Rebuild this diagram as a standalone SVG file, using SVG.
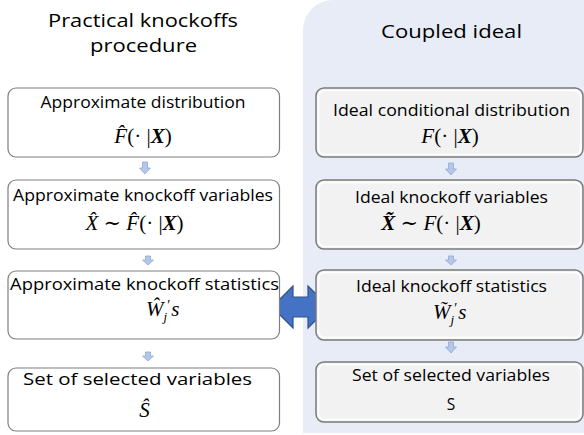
<svg xmlns="http://www.w3.org/2000/svg" width="584" height="435" viewBox="0 0 584 435">
<defs>
<style>
.lbl{font-family:"Open Sans","Liberation Sans",sans-serif;fill:#000;text-anchor:middle}
.t{font-size:18.5px}
.l{font-size:17px}
.r{font-size:15.5px}
.m{font-family:"Liberation Serif","DejaVu Serif",serif;font-size:21px;fill:#000}
.i{font-style:italic}
.bi{font-style:italic;font-weight:bold}
.lbox{fill:#fff;stroke:#7f7f7f;stroke-width:1.2}
.rbox{fill:#f2f2f2;stroke:#7a7a7a;stroke-width:1.5}
.rin{fill:none;stroke:#fff;stroke-width:1.5}
.down{fill:#b4c7e7;stroke:#8faadc;stroke-width:0.8}
.dbl{fill:#4472c4;stroke:#2f528f;stroke-width:1.2}
</style>
</defs>
<path d="M303,30 A30,30 0 0 1 333,0 L584,0 L584,433 L303,433 Z" fill="#e7ecf6"/>
<g id="titles">
<text class="lbl t" x="143" y="27" textLength="190" lengthAdjust="spacingAndGlyphs">Practical knockoffs</text>
<text class="lbl t" x="143.5" y="52" textLength="107" lengthAdjust="spacingAndGlyphs">procedure</text>
<text class="lbl t" x="451.5" y="38" textLength="141" lengthAdjust="spacingAndGlyphs">Coupled ideal</text>
</g>
<g id="connectors">
<path class="down" d="M142.5,162 h5 v6 h3 l-5.5,6 l-5.5,-6 h3 z"/>
<path class="down" d="M145.5,256 h5 v4 h3 l-5.5,5 l-5.5,-5 h3 z"/>
<path class="down" d="M145.5,352 h5 v4 h3 l-5.5,5 l-5.5,-5 h3 z"/>
<path class="down" d="M448.5,163 h5 v6 h3 l-5.5,6 l-5.5,-6 h3 z"/>
<path class="down" d="M448.5,256 h5 v4 h3 l-5.5,5 l-5.5,-5 h3 z"/>
<path class="down" d="M448.5,342 h5 v5 h3 l-5.5,6 l-5.5,-6 h3 z"/>
<path class="dbl" d="M272,307 L293,286 L293,297 L308,297 L308,286 L329,307 L308,328 L308,317 L293,317 L293,328 Z"/>
</g>
<g id="L1">
<rect class="lbox" x="8" y="88" width="271.5" height="69" rx="8"/>
<text class="lbl l" x="143" y="108" textLength="205" lengthAdjust="spacingAndGlyphs">Approximate distribution</text>
<text class="m" x="143" y="143" text-anchor="middle"><tspan class="i">F̂</tspan>(· |<tspan class="bi">X</tspan>)</text>
</g>
<g id="L2">
<rect class="lbox" x="8" y="180" width="271.5" height="69" rx="8"/>
<text class="lbl l" x="143" y="201" textLength="260" lengthAdjust="spacingAndGlyphs">Approximate knockoff variables</text>
<text class="m" x="134.5" y="230" text-anchor="middle"><tspan class="i">X̂</tspan> ∼ <tspan class="i">F̂</tspan>(· |<tspan class="bi">X</tspan>)</text>
</g>
<g id="L3">
<rect class="lbox" x="8" y="271" width="271.5" height="68" rx="8"/>
<text class="lbl l" x="144.5" y="290" textLength="269" lengthAdjust="spacingAndGlyphs">Approximate knockoff statistics</text>
<text class="m" x="146" y="316"><tspan class="i">Ŵ</tspan><tspan class="i" font-size="13" dy="5">j</tspan><tspan dy="-11" font-size="14">′</tspan><tspan class="i" dx="1" dy="6">s</tspan></text>
</g>
<g id="L4">
<rect class="lbox" x="8" y="368" width="271.5" height="63" rx="8"/>
<text class="lbl l" x="137.5" y="385" textLength="229" lengthAdjust="spacingAndGlyphs">Set of selected variables</text>
<text class="m" x="144.5" y="417" text-anchor="middle"><tspan class="i">Ŝ</tspan></text>
</g>
<g id="R1">
<rect class="rbox" x="316" y="88" width="267" height="69" rx="8"/>
<rect class="rin" x="318.5" y="90.5" width="262" height="64" rx="6"/>
<text class="lbl r" x="451.5" y="116" textLength="237" lengthAdjust="spacingAndGlyphs">Ideal conditional distribution</text>
<text class="m" x="450" y="143" text-anchor="middle"><tspan class="i">F</tspan>(· |<tspan class="bi">X</tspan>)</text>
</g>
<g id="R2">
<rect class="rbox" x="316" y="180" width="267" height="69" rx="8"/>
<rect class="rin" x="318.5" y="182.5" width="262" height="64" rx="6"/>
<text class="lbl r" x="451.5" y="203" textLength="193" lengthAdjust="spacingAndGlyphs">Ideal knockoff variables</text>
<text class="m" x="431" y="230" text-anchor="middle"><tspan class="bi">X̃</tspan> ∼ <tspan class="i">F</tspan>(· |<tspan class="bi">X</tspan>)</text>
</g>
<g id="R3">
<rect class="rbox" x="316" y="270" width="267" height="70" rx="8"/>
<rect class="rin" x="318.5" y="272.5" width="262" height="65" rx="6"/>
<text class="lbl r" x="451.5" y="292" textLength="191" lengthAdjust="spacingAndGlyphs">Ideal knockoff statistics</text>
<text class="m" x="433" y="319"><tspan class="i">W̃</tspan><tspan class="i" font-size="13" dy="5">j</tspan><tspan dy="-11" font-size="14">′</tspan><tspan class="i" dx="1" dy="6">s</tspan></text>
</g>
<g id="R4">
<rect class="rbox" x="316" y="362" width="267" height="60" rx="8"/>
<rect class="rin" x="318.5" y="364.5" width="262" height="55" rx="6"/>
<text class="lbl r" x="451" y="381" textLength="198" lengthAdjust="spacingAndGlyphs">Set of selected variables</text>
<text class="lbl r" x="451" y="410">S</text>
</g>
</svg>
